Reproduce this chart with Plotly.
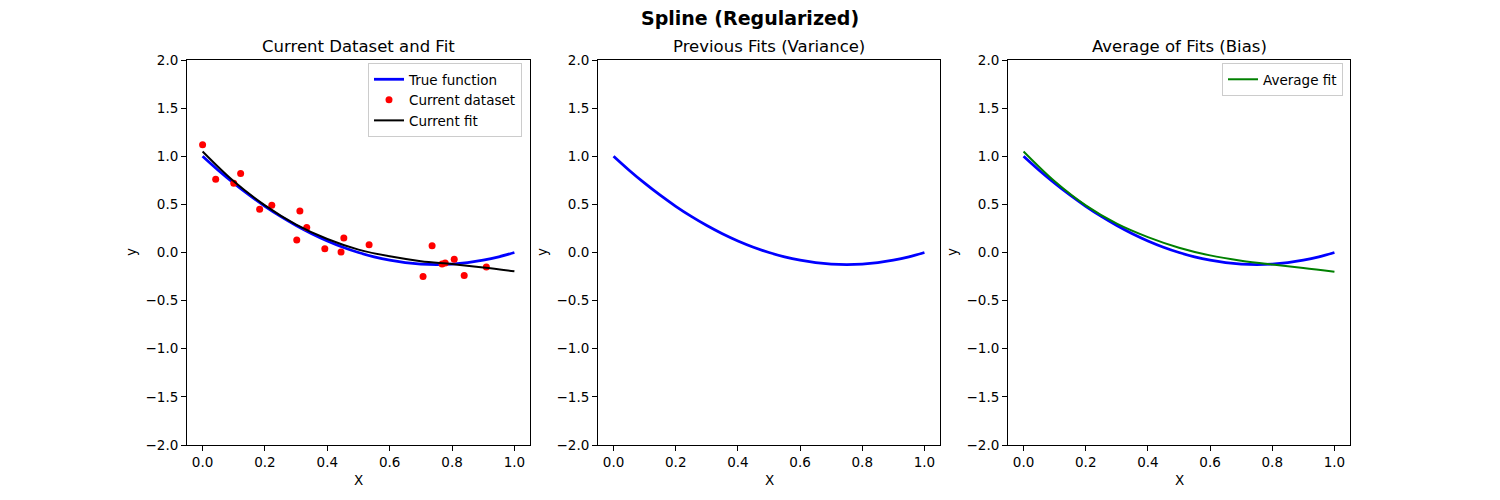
import plotly.graph_objects as go

# ---- data ----
x_grid = [0.0, 0.05, 0.1, 0.15, 0.2, 0.25, 0.3, 0.35, 0.4, 0.45, 0.5,
          0.55, 0.6, 0.65, 0.7, 0.75, 0.8, 0.85, 0.9, 0.95, 1.0]
true_y = [1.0, 0.855, 0.72, 0.595, 0.48, 0.375, 0.28, 0.195, 0.12, 0.055, 0.0,
          -0.045, -0.08, -0.105, -0.12, -0.125, -0.12, -0.105, -0.08, -0.045, 0.0]

fit_x = [0.0, 0.1, 0.2, 0.3, 0.4, 0.5, 0.6, 0.7, 0.8, 0.9, 1.0]
current_fit = [1.05, 0.74, 0.49, 0.29, 0.14, 0.03, -0.04, -0.09, -0.12, -0.155, -0.195]
average_fit = [1.05, 0.74, 0.49, 0.30, 0.16, 0.05, -0.03, -0.085, -0.125, -0.16, -0.20]

data_x = [0.0, 0.042, 0.10, 0.122, 0.183, 0.222, 0.302, 0.312, 0.334, 0.392,
          0.444, 0.453, 0.534, 0.707, 0.736, 0.768, 0.778, 0.807, 0.839, 0.910]
data_y = [1.12, 0.76, 0.72, 0.82, 0.45, 0.49, 0.13, 0.43, 0.26, 0.04,
          0.005, 0.15, 0.08, -0.25, 0.07, -0.12, -0.11, -0.07, -0.24, -0.15]

suptitle = "Spline (Regularized)"
panel_titles = ["Current Dataset and Fit", "Previous Fits (Variance)", "Average of Fits (Bias)"]
x_ticks = [0.0, 0.2, 0.4, 0.6, 0.8, 1.0]
y_ticks = [-2.0, -1.5, -1.0, -0.5, 0.0, 0.5, 1.0, 1.5, 2.0]

# ---- layout geometry (page body has an 8px margin; compensate) ----
W, H = 1500, 500
OFF = 8


def px(v):
    return (v - OFF) / W


def py(v):
    return 1 - (v - OFF) / H


panels_px = [(187, 530), (598, 940), (1008, 1350)]
domains = [(px(a), px(b)) for a, b in panels_px]
ydom = (py(445), py(60))
FONT = "DejaVu Sans"

fig = go.Figure()

# Panel 1
fig.add_trace(go.Scatter(x=x_grid, y=true_y, mode="lines", name="True function",
                         line=dict(color="blue", width=2.8, shape="spline"),
                         xaxis="x", yaxis="y", legend="legend"))
fig.add_trace(go.Scatter(x=data_x, y=data_y, mode="markers", name="Current dataset",
                         marker=dict(color="red", size=7),
                         xaxis="x", yaxis="y", legend="legend"))
fig.add_trace(go.Scatter(x=fit_x, y=current_fit, mode="lines", name="Current fit",
                         line=dict(color="black", width=2, shape="spline"),
                         xaxis="x", yaxis="y", legend="legend"))
# Panel 2
fig.add_trace(go.Scatter(x=x_grid, y=true_y, mode="lines", showlegend=False,
                         line=dict(color="blue", width=2.8, shape="spline"),
                         xaxis="x2", yaxis="y2"))
# Panel 3
fig.add_trace(go.Scatter(x=x_grid, y=true_y, mode="lines", showlegend=False,
                         line=dict(color="blue", width=2.8, shape="spline"),
                         xaxis="x3", yaxis="y3"))
fig.add_trace(go.Scatter(x=fit_x, y=average_fit, mode="lines", name="Average fit",
                         line=dict(color="green", width=2, shape="spline"),
                         xaxis="x3", yaxis="y3", legend="legend2"))

axis_common = dict(showline=True, linecolor="black", linewidth=1, mirror=True,
                   ticks="outside", ticklen=5, tickwidth=1, tickcolor="black",
                   showgrid=False, zeroline=False, automargin=False,
                   tickfont=dict(family=FONT, size=13.5, color="black"))

layout = dict(width=W, height=H, margin=dict(l=0, r=0, t=0, b=0),
              paper_bgcolor="white", plot_bgcolor="white",
              font=dict(family=FONT, color="black"))

annotations = [dict(text="<b>%s</b>" % suptitle, x=px(750), y=py(18), xref="paper", yref="paper",
                    xanchor="center", yanchor="middle", showarrow=False,
                    font=dict(family=FONT, size=19, color="black"))]

for i, ((a, b), t) in enumerate(zip(panels_px, panel_titles)):
    sfx = "" if i == 0 else str(i + 1)
    d = domains[i]
    layout["xaxis" + sfx] = dict(axis_common, domain=list(d), range=[-0.05, 1.05],
                                 tickvals=x_ticks, tickformat=".1f",
                                 anchor="y" + sfx)
    layout["yaxis" + sfx] = dict(axis_common, domain=list(ydom), range=[-2.0, 2.0],
                                 tickvals=y_ticks, tickformat=".1f",
                                 anchor="x" + sfx)
    cx = px((a + b) / 2)
    annotations.append(dict(text=t, x=cx, y=py(47), xref="paper", yref="paper",
                            xanchor="center", yanchor="middle", showarrow=False,
                            font=dict(family=FONT, size=16.5, color="black")))
    annotations.append(dict(text="X", x=cx, y=py(480), xref="paper", yref="paper",
                            xanchor="center", yanchor="middle", showarrow=False,
                            font=dict(family=FONT, size=13.5, color="black")))
    annotations.append(dict(text="y", x=px(a - 56), y=py(252), xref="paper", yref="paper",
                            textangle=-90, xanchor="center", yanchor="middle", showarrow=False,
                            font=dict(family=FONT, size=13.5, color="black")))

layout["annotations"] = annotations
legend_common = dict(bgcolor="white", bordercolor="#cccccc", borderwidth=1,
                     font=dict(family=FONT, size=13.5, color="black"),
                     xanchor="right", yanchor="top", itemwidth=30)
layout["legend"] = dict(legend_common, x=px(522), y=py(63))
layout["legend2"] = dict(legend_common, x=px(1343), y=py(63))

fig.update_layout(**layout)
fig.write_html("out.html")
